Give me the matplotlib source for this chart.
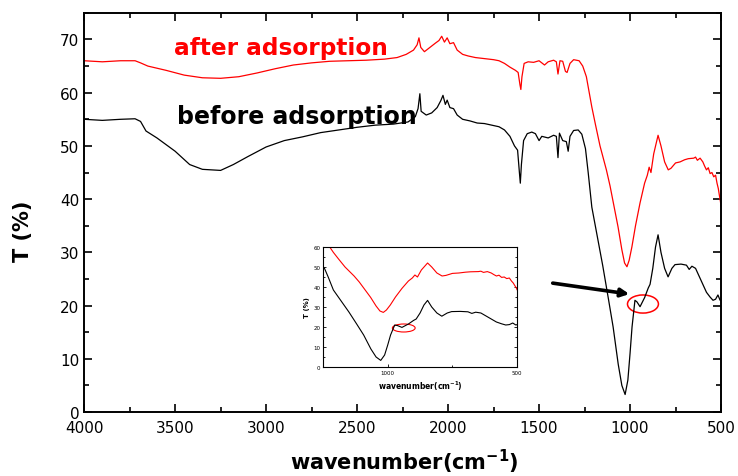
import numpy as np
import matplotlib
matplotlib.use("Agg")
from matplotlib import pyplot as plt
from matplotlib.patches import Ellipse
from matplotlib.ticker import MultipleLocator

plt.rcParams['font.family'] = ['DejaVu Sans']
plt.rcParams['mathtext.fontset'] = 'dejavusans'

# spectra (wavenumber, T %)
wn_before = [4000, 3900, 3800, 3720, 3690, 3660, 3600, 3500, 3420, 3350, 3250, 3180, 3100, 3000,
             2900, 2800, 2700, 2600, 2500, 2400, 2300, 2220, 2180, 2165, 2155, 2148, 2120, 2090,
             2060, 2040, 2028, 2015, 2005, 1990, 1970, 1950, 1920, 1880, 1840, 1800, 1760, 1720,
             1690, 1660, 1635, 1618, 1608, 1603, 1597, 1585, 1565, 1540, 1520, 1500, 1485, 1450,
             1420, 1405, 1396, 1388, 1370, 1350, 1340, 1330, 1310, 1285, 1265, 1245, 1230, 1210,
             1180, 1150, 1120, 1093, 1065, 1045, 1027, 1012, 1000, 989, 973, 962, 945, 920, 900,
             890, 875, 860, 846, 830, 810, 791, 770, 753, 720, 690, 675, 660, 640, 620, 600, 580,
             560, 544, 530, 517, 505, 500]
t_before = [55.0, 54.8, 55.0, 55.1, 54.6, 52.8, 51.5, 49.0, 46.5, 45.6, 45.4, 46.5, 48.0, 49.8,
            51.0, 51.7, 52.5, 53.0, 53.5, 53.9, 54.1, 54.5, 55.5, 57.0, 59.8, 56.5, 55.8, 56.2,
            57.2, 58.5, 59.5, 57.8, 58.6, 57.2, 57.0, 55.8, 55.0, 54.7, 54.3, 54.2, 53.9, 53.6,
            53.0, 51.8, 50.0, 49.2, 45.0, 43.0, 46.5, 51.0, 52.3, 52.6, 52.3, 51.0, 51.8, 51.5,
            52.0, 51.8, 47.8, 52.4, 51.0, 50.8, 49.0, 51.8, 52.9, 53.0, 52.2, 49.5, 45.0, 38.5,
            33.0, 27.5, 21.5, 16.0, 9.0, 5.0, 3.3, 6.0, 11.0, 16.0, 21.0, 20.7, 19.8, 21.5, 23.3,
            24.0, 27.0, 31.0, 33.3, 30.0, 27.0, 25.4, 27.0, 27.7, 27.8, 27.6, 26.8, 27.4, 27.0,
            25.5, 24.0, 22.5, 21.6, 21.0, 21.2, 22.0, 21.0, 21.2]

wn_after = [4000, 3900, 3800, 3720, 3690, 3650, 3550, 3450, 3350, 3250, 3150, 3050, 2950, 2850,
            2750, 2650, 2550, 2450, 2350, 2280, 2230, 2190, 2170, 2160, 2150, 2130, 2100, 2070,
            2050, 2035, 2020, 2005, 1990, 1970, 1950, 1920, 1890, 1850, 1800, 1750, 1720, 1690,
            1660, 1630, 1615, 1605, 1600, 1594, 1582, 1560, 1530, 1500, 1470, 1450, 1420, 1405,
            1396, 1385, 1370, 1355, 1346, 1330, 1310, 1280, 1260, 1240, 1210, 1190, 1165, 1130,
            1110, 1090, 1066, 1045, 1030, 1017, 1005, 990, 970, 945, 920, 905, 895, 885, 870, 846,
            830, 810, 790, 775, 750, 725, 700, 680, 650, 640, 630, 615, 600, 590, 580, 570, 560,
            550, 540, 530, 522, 515, 508, 503, 500]
t_after = [66.0, 65.8, 66.0, 66.0, 65.6, 65.0, 64.2, 63.3, 62.8, 62.7, 63.0, 63.7, 64.5, 65.2,
           65.6, 65.9, 66.0, 66.1, 66.3, 66.6, 67.2, 68.0, 69.0, 70.3, 68.5, 67.7, 68.5, 69.3,
           69.8, 70.6, 69.5, 70.3, 69.2, 69.4, 68.0, 67.2, 66.9, 66.6, 66.4, 66.2, 66.0, 65.5,
           64.8, 64.2, 63.8, 61.5, 60.6, 63.0, 65.5, 65.8, 65.7, 66.0, 65.2, 65.8, 66.1, 65.8,
           63.5, 66.0, 65.9, 64.0, 63.8, 65.5, 66.2, 66.0, 65.0, 63.0, 57.3, 54.0, 50.0, 45.5,
           42.5, 39.0, 34.8, 30.5, 28.0, 27.3, 28.5, 31.0, 35.0, 39.3, 43.0, 44.5, 46.0, 45.0,
           48.5, 52.0, 50.0, 47.0, 45.5, 45.8, 46.8, 47.0, 47.4, 47.6, 47.7, 47.9, 47.3, 47.7,
           47.0, 46.2, 45.5, 45.9, 44.8, 45.0, 44.2, 44.5, 43.0, 42.0, 40.5, 39.5, 38.6]

fig = plt.figure(figsize=(7.38, 4.77), dpi=100)
ax = fig.add_axes([0.114, 0.134, 0.863, 0.837])

ax.plot(wn_before, t_before, color='black', lw=0.9)
ax.plot(wn_after, t_after, color='red', lw=0.9)

ax.set_xlim(4000, 500)
ax.set_ylim(0, 75)
ax.xaxis.set_major_locator(MultipleLocator(500))
ax.xaxis.set_minor_locator(MultipleLocator(250))
ax.yaxis.set_major_locator(MultipleLocator(10))
ax.yaxis.set_minor_locator(MultipleLocator(5))
ax.tick_params(which='both', direction='in', top=True, right=True, width=1.2)
ax.tick_params(which='major', length=6, labelsize=11)
ax.tick_params(axis='x', which='major', pad=6)
ax.tick_params(which='minor', length=3.5)
for s in ax.spines.values():
    s.set_linewidth(1.4)

ax.set_xlabel('wavenumber(cm$\\mathbf{^{-1}}$)', fontsize=15, fontweight='bold', va='bottom')
ax.xaxis.set_label_coords(0.502, -0.158)
ax.set_ylabel('T (%)', fontsize=15, fontweight='bold')
ax.yaxis.set_label_coords(-0.080, 0.456)

ax.text(3505, 68.4, 'after adsorption', color='red', fontsize=16.7, fontweight='bold', va='center')
ax.text(3489, 55.6, 'before adsorption', color='black', fontsize=17, fontweight='bold', va='center')

ax.add_patch(Ellipse((929, 20.3), 170, 3.4, fill=False, ec='red', lw=1.1))
ax.annotate('', xy=(989, 22.1), xytext=(1440, 24.3),
            arrowprops=dict(arrowstyle='-|>', color='black', lw=2.6, mutation_scale=12))

# inset: zoom on the fingerprint region
ins = fig.add_axes([0.4377, 0.2285, 0.263, 0.2516])
ins.plot(wn_before, t_before, color='black', lw=0.8)
ins.plot(wn_after, t_after, color='red', lw=0.8)
ins.set_xlim(1250, 500)
ins.set_ylim(0, 60)
ins.xaxis.set_major_locator(MultipleLocator(500))
ins.xaxis.set_minor_locator(MultipleLocator(250))
ins.yaxis.set_major_locator(MultipleLocator(10))
ins.yaxis.set_minor_locator(MultipleLocator(5))
ins.tick_params(which='both', direction='in', right=True, width=0.6, labelsize=4, pad=2)
ins.tick_params(which='major', length=2.5)
ins.tick_params(which='minor', length=1.5)
for s in ins.spines.values():
    s.set_linewidth(0.8)
ins.set_xlabel('wavenumber(cm$\\mathbf{^{-1}}$)', fontsize=5.5, fontweight='bold', labelpad=3)
ins.set_ylabel('T (%)', fontsize=5, fontweight='bold', labelpad=2)
ins.add_patch(Ellipse((938, 19.5), 88, 4, fill=False, ec='red', lw=0.8))

fig.savefig('out.png', dpi=100)
